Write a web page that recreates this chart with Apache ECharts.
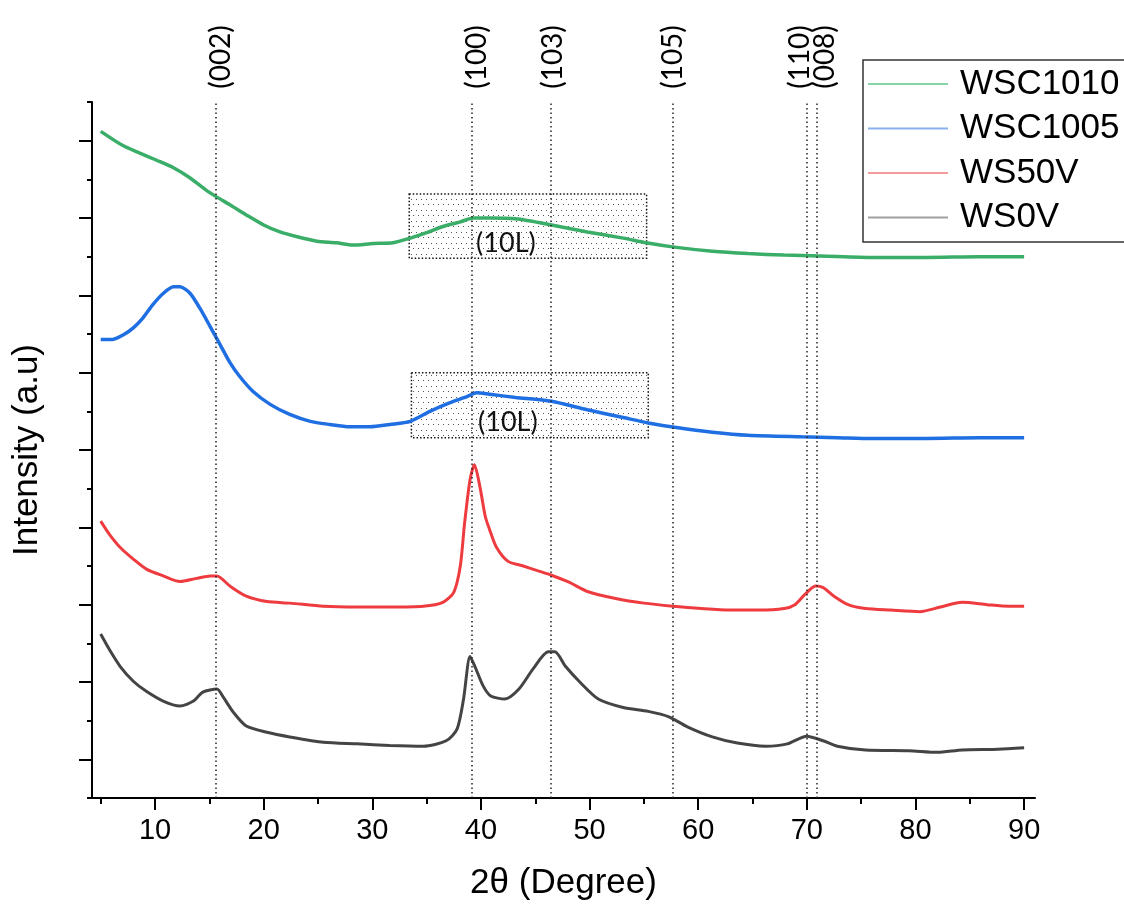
<!DOCTYPE html>
<html><head><meta charset="utf-8">
<script src="https://cdn.jsdelivr.net/npm/echarts@6/dist/echarts.min.js"></script>
<style>html,body{margin:0;padding:0;background:#fff}#c{width:1124px;height:906px}</style>
</head><body><div id="c"></div>
<script>
// ---- data (2θ in degrees, intensity in a.u., stacked offsets as drawn) ----
const seriesNames = ['WSC1010', 'WSC1005', 'WS50V', 'WS0V'];

const xWSC1010 = [5.0,7.0,8.6,10.1,11.7,13.2,14.7,15.7,16.9,18.4,20.0,21.5,23.0,24.9,26.7,28.2,30.1,31.9,33.5,35.0,36.5,38.1,39.3,40.8,43.2,46.5,49.8,53.1,55.2,58.0,61.3,64.6,67.9,71.2,76.1,81.0,85.9,90.0];
const yWSC1010 = [8.62,8.44,8.34,8.25,8.15,8.02,7.86,7.77,7.67,7.54,7.41,7.32,7.26,7.20,7.18,7.15,7.17,7.18,7.24,7.31,7.39,7.45,7.50,7.50,7.49,7.41,7.32,7.24,7.18,7.12,7.07,7.04,7.02,7.01,6.99,6.99,7.00,7.00];

const xWSC1005 = [5.0,6.1,7.1,8.0,8.9,9.8,10.8,11.7,12.3,13.2,14.1,15.1,16.0,16.9,17.8,19.0,20.6,22.4,24.3,26.1,27.9,29.8,31.6,33.5,35.3,37.1,38.7,39.6,40.8,43.2,46.5,49.8,53.1,55.4,58.0,61.3,64.6,69.5,72.8,76.1,81.0,85.9,90.0];
const yWSC1005 = [5.93,5.93,5.99,6.08,6.21,6.38,6.53,6.61,6.61,6.53,6.34,6.09,5.86,5.63,5.45,5.26,5.09,4.96,4.87,4.83,4.80,4.80,4.83,4.87,5.00,5.11,5.19,5.24,5.22,5.18,5.13,5.02,4.92,4.85,4.79,4.73,4.69,4.67,4.66,4.65,4.65,4.66,4.66];

const xWS50V = [5.0,5.8,6.8,8.0,9.2,10.8,12.3,13.8,15.1,15.7,16.9,18.4,20.3,22.4,25.5,28.6,31.6,34.7,36.5,37.5,38.1,38.5,39.0,39.4,39.9,40.4,40.8,41.4,42.5,43.9,45.2,46.5,48.1,49.8,52.4,55.0,57.7,60.3,62.9,65.6,67.9,68.9,69.8,70.8,71.5,72.5,73.8,75.4,77.7,80.4,82.3,84.3,86.6,88.6,90.0];
const yWS50V = [3.58,3.41,3.24,3.09,2.96,2.87,2.80,2.84,2.87,2.87,2.74,2.61,2.54,2.52,2.48,2.47,2.47,2.48,2.53,2.66,3.00,3.56,4.12,4.31,4.03,3.64,3.47,3.25,3.06,3.00,2.94,2.88,2.79,2.67,2.58,2.52,2.48,2.45,2.43,2.43,2.45,2.50,2.63,2.74,2.72,2.61,2.50,2.45,2.43,2.41,2.47,2.53,2.50,2.48,2.48];

const xWS0V = [5.0,5.8,6.8,8.0,9.2,10.8,12.3,13.5,14.4,15.7,16.3,17.2,18.4,20.3,22.4,25.5,28.6,31.6,34.7,36.8,37.8,38.4,39.0,39.45,40.2,40.9,42.2,43.5,44.8,46.2,46.8,47.8,49.1,50.8,53.1,55.4,57.3,59.0,61.3,63.6,66.2,68.2,70.0,71.5,72.8,75.4,79.4,82.0,84.3,87.6,90.0];
const yWS0V = [2.12,1.92,1.70,1.51,1.38,1.25,1.19,1.25,1.37,1.41,1.30,1.11,0.93,0.85,0.79,0.72,0.70,0.68,0.67,0.74,0.89,1.28,1.83,1.70,1.45,1.32,1.28,1.41,1.67,1.89,1.89,1.70,1.50,1.28,1.17,1.12,1.05,0.92,0.79,0.71,0.67,0.70,0.80,0.74,0.67,0.62,0.61,0.59,0.62,0.63,0.65];

const xTickLabels = [10,20,30,40,50,60,70,80,90];
const xMinorTicks = [5,15,25,35,45,55,65,75,85];

const peakPositions = [15.6, 39.2, 46.45, 57.7, 70.0, 70.9];
const peakLabels = ['(002)', '(100)', '(103)', '(105)', '(110)', '(008)'];
const peakLabelX = [16.1, 39.6, 46.6, 57.7, 69.4, 71.7];

const bandLabel = '(10L)';
const bandWSC1010 = [[33.4, 7.81], [55.25, 6.98]];
const bandWSC1005 = [[33.6, 5.50], [55.4, 4.66]];

// ---- styling ----
const lineColors = ['#3aae68', '#1f6fe3', '#ee3b3f', '#444444'];
const lineWidths = [3.5, 3.5, 3, 3];
const legendColors = ['#86d4a4', '#8ab0ee', '#f59a9a', '#a0a0a0'];
const XMIN = 4.2, XMAX = 91;

const pc = document.createElement('canvas'); pc.width = 10; pc.height = 11;
const g = pc.getContext('2d'); g.fillStyle = '#555';
[[1,1],[6,1],[3,6],[8,6]].forEach(p => g.fillRect(p[0], p[1], 1, 1));
const dotPattern = { image: pc, repeat: 'repeat' };

const xs = [xWSC1010, xWSC1005, xWS50V, xWS0V];
const ys = [yWSC1010, yWSC1005, yWS50V, yWS0V];
const bands = [bandWSC1010, bandWSC1005];

function band(b) {
  return [{ xAxis: b[0][0], yAxis: b[0][1] }, { xAxis: b[1][0], yAxis: b[1][1] }];
}

const series = seriesNames.map((name, i) => {
  const s = {
    name, type: 'line', symbol: 'none', showSymbol: false, smooth: 0.25,
    data: xs[i].map((x, k) => [x, ys[i][k]]),
    lineStyle: { color: lineColors[i], width: lineWidths[i] },
    itemStyle: { color: lineColors[i] },
    silent: true, z: 3
  };
  if (i < 2) {
    s.markArea = {
      silent: true,
      itemStyle: { color: dotPattern, borderColor: '#111', borderWidth: 1.5, borderType: [1.5, 2] },
      label: { show: true, position: 'inside', offset: [-22, 17], formatter: bandLabel,
               fontFamily: 'Lato', fontSize: 27, color: '#111' },
      data: [band(bands[i])]
    };
  }
  if (i === 3) {
    s.markLine = {
      silent: true, symbol: 'none', animation: false,
      label: { show: false },
      lineStyle: { color: '#222', width: 1.5, type: [1.5, 3] },
      data: peakPositions.map(v => ({ xAxis: v }))
    };
  }
  return s;
});

const chart = echarts.init(document.getElementById('c'), null, { renderer: 'canvas' });
chart.setOption({
  animation: false,
  backgroundColor: '#fff',
  textStyle: { fontFamily: 'Liberation Sans' },
  grid: [
    { left: 92, right: 89, top: 102, bottom: 107 },
    { left: 92, right: 89, top: 102, bottom: 107 }
  ],
  legend: {
    orient: 'vertical', left: 863, top: 60,
    itemWidth: 80, itemHeight: 14, itemGap: 8.5,
    padding: [6, 10, 6, 4],
    borderWidth: 0,
    textStyle: { fontSize: 35, lineHeight: 36, color: '#000', padding: [0, 0, 0, 7], fontFamily: 'Liberation Sans' },
    data: seriesNames.map((n, i) => ({
      name: n,
      lineStyle: { color: legendColors[i], width: 2 },
      itemStyle: { color: legendColors[i], opacity: 0, borderWidth: 0 }
    })),
    selectedMode: false
  },
  xAxis: [
    {
      type: 'value', gridIndex: 0, min: XMIN, max: XMAX,
      name: '2θ (Degree)', nameLocation: 'middle', nameGap: 68,
      nameTextStyle: { fontSize: 35, color: '#000', fontFamily: 'Liberation Sans' },
      axisLine: { show: true, onZero: false, lineStyle: { color: '#000', width: 2 } },
      axisTick: { show: true, customValues: xTickLabels, length: 12, lineStyle: { color: '#000', width: 2 } },
      axisLabel: { show: true, customValues: xTickLabels, margin: 18, fontSize: 29, color: '#000', fontFamily: 'Liberation Sans' },
      splitLine: { show: false }
    },
    {
      type: 'value', gridIndex: 1, min: XMIN, max: XMAX,
      axisLine: { show: false },
      axisTick: { show: true, customValues: xMinorTicks, length: 5, lineStyle: { color: '#000', width: 2 } },
      axisLabel: { show: false, customValues: xMinorTicks },
      splitLine: { show: false }
    }
  ],
  yAxis: [
    {
      type: 'value', gridIndex: 0, min: 0, max: 9, interval: 1,
      name: 'Intensity (a.u)', nameLocation: 'middle', nameGap: 47,
      nameTextStyle: { fontSize: 35, color: '#000', fontFamily: 'Liberation Sans' },
      axisLine: { show: true, onZero: false, lineStyle: { color: '#000', width: 2 } },
      axisTick: { show: true, length: 5, lineStyle: { color: '#000', width: 2 } },
      minorTick: { show: true, splitNumber: 2, length: 13, lineStyle: { color: '#000', width: 2 } },
      axisLabel: { show: false },
      splitLine: { show: false }, minorSplitLine: { show: false }
    },
    { type: 'value', gridIndex: 1, min: 0, max: 9, show: false }
  ],
  series
});

const peakGraphics = peakLabels.map((t, i) => ({
  type: 'text',
  x: chart.convertToPixel({ xAxisIndex: 0 }, peakLabelX[i]),
  y: 57,
  rotation: Math.PI / 2,
  style: { text: t, font: '28px Lato', fill: '#000', textAlign: 'center', textVerticalAlign: 'middle' }
}));
// legend frame (runs past the right edge of the picture, as in the original)
peakGraphics.push({
  type: 'rect', shape: { x: 863, y: 60, width: 320, height: 182 },
  style: { fill: 'none', stroke: '#333', lineWidth: 1.5 }, z: 10, silent: true
});
chart.setOption({ graphic: peakGraphics });
</script>
</body></html>
